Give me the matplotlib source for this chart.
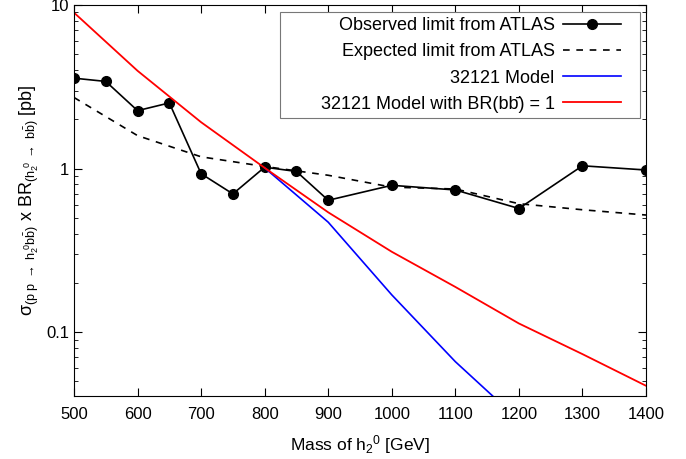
import matplotlib
matplotlib.use("Agg")
import matplotlib.pyplot as plt
from matplotlib.patches import Rectangle
from matplotlib.ticker import FixedLocator, LogLocator, NullFormatter

plt.rcParams['font.family'] = ['Liberation Sans', 'DejaVu Sans']
plt.rcParams['mathtext.fontset'] = 'custom'
plt.rcParams['mathtext.rm'] = 'Liberation Sans'
plt.rcParams['mathtext.it'] = 'Liberation Sans'
plt.rcParams['mathtext.bf'] = 'Liberation Sans:bold'

# observed ATLAS limit
obs_mass = [500, 550, 600, 650, 700, 750, 800, 850, 900, 1000, 1100, 1200, 1300, 1400]
obs_limit = [3.57, 3.41, 2.26, 2.52, 0.93, 0.70, 1.02, 0.96, 0.64, 0.79, 0.74, 0.57, 1.04, 0.98]

# expected ATLAS limit
exp_mass = [500, 600, 700, 800, 900, 1000, 1100, 1200, 1300, 1400]
exp_limit = [2.72, 1.59, 1.18, 1.03, 0.91, 0.77, 0.75, 0.61, 0.56, 0.52]

# model predictions
model_mass = [800, 900, 1000, 1100, 1200]
model_xs = [1.01, 0.47, 0.169, 0.066, 0.029]

bb_mass = [500, 600, 700, 800, 900, 1000, 1100, 1200, 1300, 1400]
bb_xs = [8.98, 3.96, 1.92, 1.01, 0.54, 0.31, 0.189, 0.113, 0.0734, 0.047]

fig = plt.figure(figsize=(6.86, 4.59), dpi=100)
ax = fig.add_axes([74 / 686, 1 - 396 / 459, 572 / 686, 391 / 459])

ax.plot(obs_mass, obs_limit, color='black', lw=1.2, marker='o', ms=7,
        label='Observed limit from ATLAS')
ax.plot(exp_mass, exp_limit, color='black', lw=1.2, ls=(0, (4, 4)),
        label='Expected limit from ATLAS')
ax.plot(model_mass, model_xs, color='#0000ff', lw=1.2, label='32121 Model')
ax.plot(bb_mass, bb_xs, color='#ff0000', lw=1.3,
        label='32121 Model with BR(bb\u0304) = 1')

ax.set_yscale('log')
ax.set_xlim(500, 1400)
ax.set_ylim(0.0407, 10)
ax.xaxis.set_major_locator(FixedLocator(range(500, 1401, 100)))
ax.yaxis.set_major_locator(FixedLocator([0.1, 1, 10]))
ax.set_yticklabels(['0.1', '1', '10'])
ax.yaxis.set_minor_locator(LogLocator(base=10, subs=range(2, 10)))
ax.yaxis.set_minor_formatter(NullFormatter())
ax.tick_params(which='both', direction='in', top=True, right=True, labelsize=12)
ax.tick_params(which='major', length=6)
ax.tick_params(which='minor', length=3)
ax.tick_params(axis='x', pad=8)

ax.set_xlabel(r'Mass of h$_2$$^0$ [GeV]', fontsize=12.5, labelpad=8)
ax.set_ylabel(r'$\sigma_{(\mathrm{p\ p}\ \rightarrow\ \mathrm{h_2^{\ 0}b\bar{b}})}$ x BR$_{(\mathrm{h_2^{\ 0}}\ \rightarrow\ \mathrm{b\bar{b}})}$ [pb]',
              fontsize=13, labelpad=4)

# legend box drawn separately so it can be wider than its contents (gnuplot style)
ax.add_patch(Rectangle((0.360, 0.711), 0.630, 0.271, transform=ax.transAxes,
                       facecolor='white', edgecolor='#777777', lw=0.8, zorder=4))
leg = ax.legend(loc='upper right', markerfirst=False, fontsize=13, frameon=False,
                handlelength=3.2, handletextpad=0.45,
                bbox_to_anchor=(0.965, 0.982), borderaxespad=0.0, labelspacing=0.5,
                borderpad=0.3)
leg.set_zorder(5)

fig.savefig('out.png', dpi=100)
